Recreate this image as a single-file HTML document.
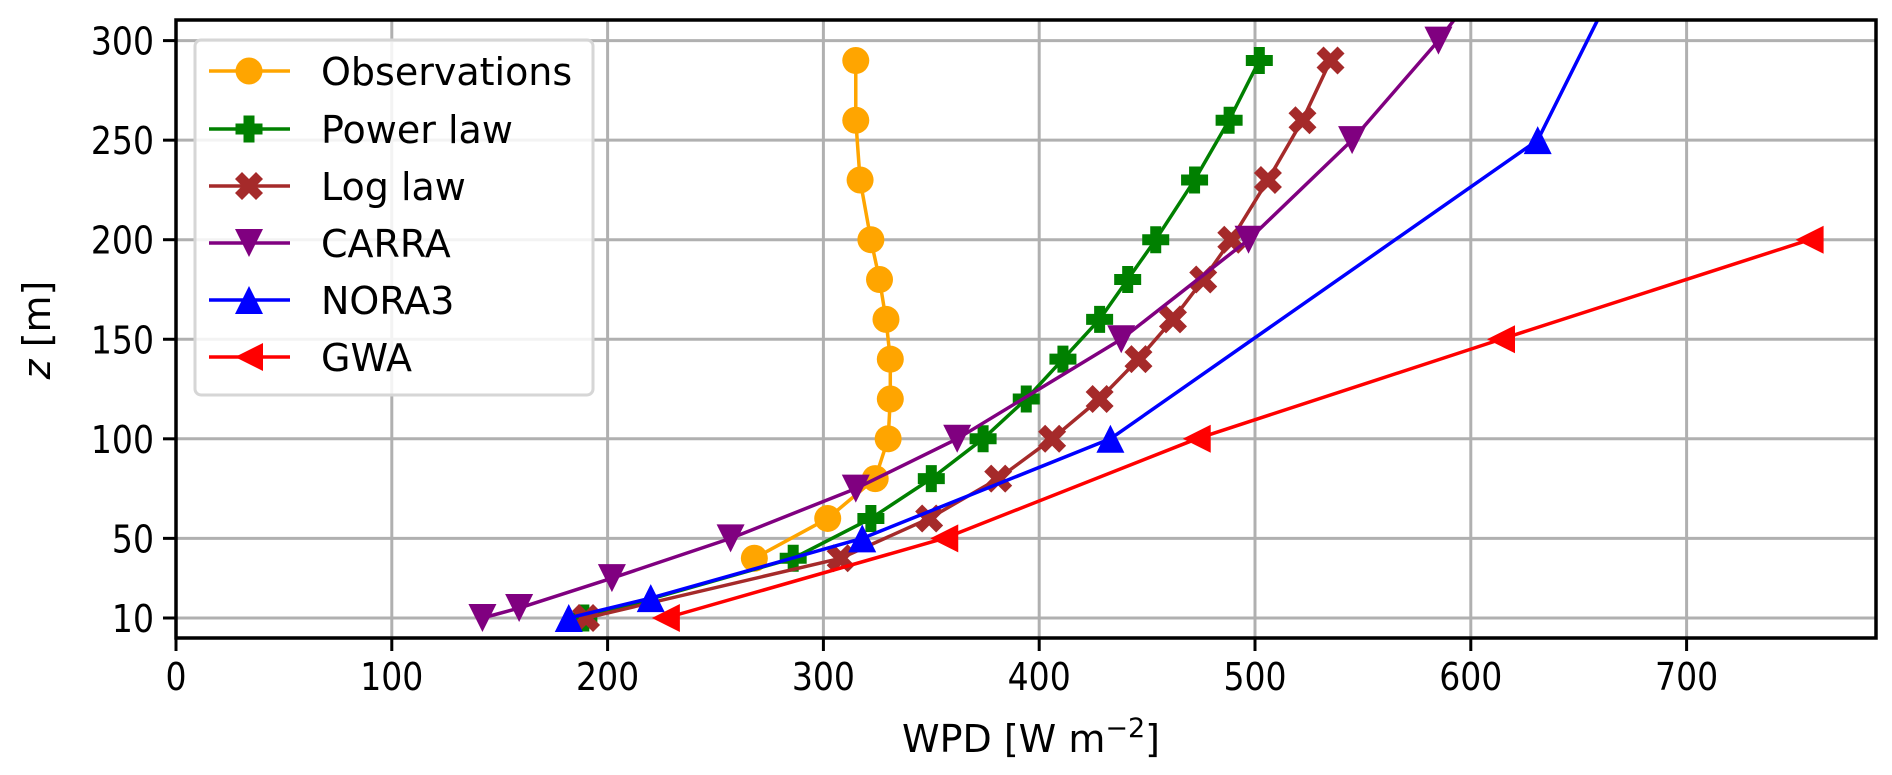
<!DOCTYPE html>
<html><head><meta charset="utf-8">
<style>
html,body{margin:0;padding:0;background:#fff;}
svg{display:block;font-family:"DejaVu Sans","Liberation Sans",sans-serif;}
</style></head>
<body>
<svg id="chart" width="1892" height="775" viewBox="0 0 1892 775" xmlns="http://www.w3.org/2000/svg">
<g id="grid"></g>
<g id="series"></g>
<g id="axes"></g>
<g id="legend"></g>
</svg>
<script>
const xTicks = [0,100,200,300,400,500,600,700];
const yTicks = [10,50,100,150,200,250,300];
const seriesNames = ["Observations","Power law","Log law","CARRA","NORA3","GWA"];
const obsZ = [40,60,80,100,120,140,160,180,200,230,260,290];
const obsX = [268,302,324,330,331,331,329,326,322,317,315,315];
const powZ = [10,40,60,80,100,120,140,160,180,200,230,260,290];
const powX = [189,286,322,350,374,394,411,428,441,454,472,488,502];
const logZ = [10,40,60,80,100,120,140,160,180,200,230,260,290];
const logX = [190,308,349,381,406,428,446,462,476,489,506,522,535];
const carraZ = [10,15,30,50,75,100,150,200,250,300,350];
const carraX = [142,159,202,257,315,362,438,497,545,585,620];
const noraZ = [10,20,50,100,250,350];
const noraX = [182,220,318,433,631,677];
const gwaZ = [10,50,100,150,200];
const gwaX = [227,356,473,614,757];

const L=176,R=1876,T=20,B=638;
const xScale=v=>L+v*2.158;
const yScale=z=>618-(z-10)*1.991;
const NS="http://www.w3.org/2000/svg";
function mk(tag,attrs,parent){const e=document.createElementNS(NS,tag);for(const k in attrs)e.setAttribute(k,attrs[k]);parent.appendChild(e);return e;}
function squeeze(t,f){const w=t.getComputedTextLength();t.setAttribute('textLength',w*f);t.setAttribute('lengthAdjust','spacingAndGlyphs');}
const svg=document.getElementById('chart');
const grid=document.getElementById('grid'),axes=document.getElementById('axes'),ser=document.getElementById('series'),leg=document.getElementById('legend');

const defs=mk('defs',{},svg);
const cp=mk('clipPath',{id:'plotclip'},defs);
mk('rect',{x:L,y:T,width:R-L,height:B-T},cp);
ser.setAttribute('clip-path','url(#plotclip)');

xTicks.forEach(v=>{
  const x=xScale(v);
  const g=mk('line',{x1:x,x2:x,y1:T,y2:B,stroke:'#b0b0b0','stroke-width':3},grid);
  
  
  const t=mk('line',{x1:x,x2:x,y1:B,y2:B+13,stroke:'#000','stroke-width':3},axes);
  
  
  const tx=mk('text',{x:x,y:B+52,'font-size':38,'text-anchor':'middle',fill:'#000'},axes);
  tx.textContent=v;
  
  
  squeeze(tx,0.87);
});
yTicks.forEach(v=>{
  const y=yScale(v);
  const g=mk('line',{x1:L,x2:R,y1:y,y2:y,stroke:'#b0b0b0','stroke-width':3},grid);
  
  
  const t=mk('line',{x1:L-13,x2:L,y1:y,y2:y,stroke:'#000','stroke-width':3},axes);
  
  
  const tx=mk('text',{x:L-22,y:y+14,'font-size':38,'text-anchor':'end',fill:'#000'},axes);
  tx.textContent=v;
  
  
  squeeze(tx,0.87);
});
const frame=mk('rect',{x:L,y:T,width:R-L,height:B-T,fill:'none',stroke:'#000','stroke-width':3.5},axes);


const xl=mk('text',{x:1031,y:752,'font-size':38,'text-anchor':'middle',fill:'#000'},axes);
xl.innerHTML='WPD [W m<tspan dy="-15" font-size="27">−2</tspan><tspan dy="15">]</tspan>';


const yl=mk('text',{x:0,y:0,'font-size':38,'text-anchor':'middle',fill:'#000',transform:'translate(50,330) rotate(-90)'},axes);
yl.innerHTML='<tspan font-style="italic">z</tspan> [m]';



function marker(type,cx,cy,color,parent){
  const s=14;let e;
  if(type==='o'){e=mk('circle',{cx:cx,cy:cy,r:13.5,fill:color},parent);}
  else if(type==='P'){const a=13.5,b=5.5;
    const p=[[-b,-a],[b,-a],[b,-b],[a,-b],[a,b],[b,b],[b,a],[-b,a],[-b,b],[-a,b],[-a,-b],[-b,-b]];
    e=mk('polygon',{points:p.map(q=>(cx+q[0])+','+(cy+q[1])).join(' '),fill:color},parent);}
  else if(type==='X'){const a=14,w=7;
    const p=[[-a+w,-a],[0,-w],[a-w,-a],[a,-a+w],[w,0],[a,a-w],[a-w,a],[0,w],[-a+w,a],[-a,a-w],[-w,0],[-a,-a+w]];
    e=mk('polygon',{points:p.map(q=>(cx+q[0])+','+(cy+q[1])).join(' '),fill:color},parent);}
  else if(type==='v'){e=mk('polygon',{points:`${cx-s},${cy-s} ${cx+s},${cy-s} ${cx},${cy+s}`,fill:color},parent);}
  else if(type==='^'){e=mk('polygon',{points:`${cx-s},${cy+s} ${cx+s},${cy+s} ${cx},${cy-s}`,fill:color},parent);}
  else if(type==='<'){e=mk('polygon',{points:`${cx+s},${cy-s} ${cx+s},${cy+s} ${cx-s},${cy}`,fill:color},parent);}
  return e;
}
const defsS=[
 {xs:obsX,zs:obsZ,c:'#FFA500',m:'o',n:'observations'},
 {xs:powX,zs:powZ,c:'#008000',m:'P',n:'power-law'},
 {xs:logX,zs:logZ,c:'#A52A2A',m:'X',n:'log-law'},
 {xs:carraX,zs:carraZ,c:'#800080',m:'v',n:'carra'},
 {xs:noraX,zs:noraZ,c:'#0000FF',m:'^',n:'nora3'},
 {xs:gwaX,zs:gwaZ,c:'#FF0000',m:'<',n:'gwa'}
];
defsS.forEach(s=>{
  const g=mk('g',{},ser);
  
  
  const pts=s.xs.map((v,i)=>xScale(v)+','+yScale(s.zs[i])).join(' ');
  const pl=mk('polyline',{points:pts,fill:'none',stroke:s.c,'stroke-width':3.5,'stroke-linejoin':'round'},g);
  
  
  s.xs.forEach((v,i)=>{
    const e=marker(s.m,xScale(v),yScale(s.zs[i]),s.c,g);
    
    
  });
});
const box=mk('rect',{x:195,y:40,width:398,height:355,rx:6,fill:'#fff','fill-opacity':0.85,stroke:'#d6d6d6','stroke-width':3},leg);


const ly=[71,129,186,243,300,357];
defsS.forEach((s,i)=>{
  const g=mk('g',{},leg);
  
  
  mk('line',{x1:209,x2:290,y1:ly[i],y2:ly[i],stroke:s.c,'stroke-width':3.5},g);
  marker(s.m,249,ly[i],s.c,g);
  const t=mk('text',{x:321,y:ly[i]+14,'font-size':38,fill:'#000'},g);
  t.textContent=seriesNames[i];
});
</script>
</body></html>
